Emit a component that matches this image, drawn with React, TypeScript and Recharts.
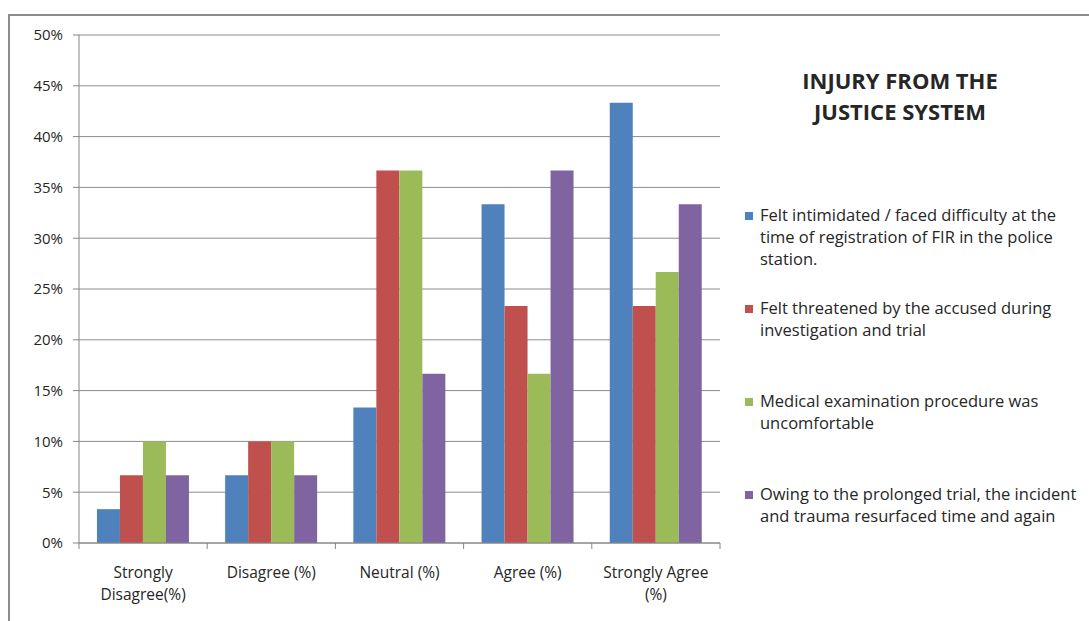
import { BarChart, Bar, XAxis, YAxis, CartesianGrid } from 'recharts';

const categories = ['Strongly Disagree(%)', 'Disagree (%)', 'Neutral (%)', 'Agree (%)', 'Strongly Agree (%)'];
const categoryLines = [
  ['Strongly', 'Disagree(%)'],
  ['Disagree (%)'],
  ['Neutral (%)'],
  ['Agree (%)'],
  ['Strongly Agree', '(%)'],
];

const intimidated = [3.33, 6.67, 13.33, 33.33, 43.33];
const threatened = [6.67, 10, 36.67, 23.33, 23.33];
const medical = [10, 10, 36.67, 16.67, 26.67];
const trauma = [6.67, 6.67, 16.67, 36.67, 33.33];

const yTicks = [0, 5, 10, 15, 20, 25, 30, 35, 40, 45, 50];

const seriesNames = [
  ['Felt intimidated / faced difficulty at the', 'time of registration of FIR in the police', 'station.'],
  ['Felt threatened by the accused during', 'investigation and trial'],
  ['Medical examination procedure was', 'uncomfortable'],
  ['Owing to the prolonged trial, the incident', 'and trauma resurfaced time and again'],
];
const seriesKeys = ['intimidated', 'threatened', 'medical', 'trauma'];
const colors = ['#4F81BD', '#C0504D', '#9BBB59', '#8064A2'];

const title = ['INJURY FROM THE', 'JUSTICE SYSTEM'];

const data = categories.map((name, i) => ({
  name,
  intimidated: intimidated[i],
  threatened: threatened[i],
  medical: medical[i],
  trauma: trauma[i],
}));

const W = 1089;
const H = 621;
const PLOT_LEFT = 79;
const PLOT_RIGHT = 720;
const PLOT_TOP = 35;
const PLOT_BOTTOM = 543;
const FONT = '"Open Sans", sans-serif';
const TEXT = '#262626';
const band = (PLOT_RIGHT - PLOT_LEFT) / categories.length;

// category label plus the boundary tick marks on either side of it
function CategoryTick(props: any) {
  const { x, y, index } = props;
  const lines: string[] = categoryLines[index] || [];
  const left = x - band / 2;
  return (
    <g>
      <line x1={left} x2={left} y1={PLOT_BOTTOM} y2={PLOT_BOTTOM + 6} stroke="#868686" />
      {index === categories.length - 1 && (
        <line x1={left + band} x2={left + band} y1={PLOT_BOTTOM} y2={PLOT_BOTTOM + 6} stroke="#868686" />
      )}
      <text x={x} y={y} textAnchor="middle" fill={TEXT} fontSize={15.5} fontFamily={FONT}>
        {lines.map((l, i) => (
          <tspan key={i} x={x} dy={i === 0 ? 27 : 22}>
            {l}
          </tspan>
        ))}
      </text>
    </g>
  );
}

function SideLegend() {
  return (
    <div style={{ position: 'absolute', left: 725, top: 65, width: 360, fontFamily: FONT, color: TEXT }}>
      <div style={{ textAlign: 'center', fontWeight: 700, fontSize: 22, lineHeight: '31px', width: 350 }}>
        {title.map((t) => (
          <div key={t}>{t}</div>
        ))}
      </div>
      <div style={{ marginTop: 77 }}>
        {seriesKeys.map((k, i) => (
          <div key={k} style={{ display: 'flex', alignItems: 'flex-start', height: 93, marginLeft: 20 }}>
            <div style={{ width: 8, height: 8, background: colors[i], marginTop: 8, marginRight: 7, flexShrink: 0 }} />
            <div style={{ fontSize: 16.5, lineHeight: '22px' }}>
              {seriesNames[i].map((l) => (
                <div key={l} style={{ whiteSpace: 'nowrap' }}>{l}</div>
              ))}
            </div>
          </div>
        ))}
      </div>
    </div>
  );
}

export default function App() {
  return (
    <div style={{ position: 'absolute', left: 0, top: 0, width: W, height: H, overflow: 'hidden', background: '#fff' }}>
      <div
        style={{
          position: 'absolute',
          left: 8,
          top: 14,
          width: W + 20,
          height: H + 20,
          border: '2px solid #8c8c8c',
          boxSizing: 'border-box',
        }}
      />
      <div style={{ position: 'absolute', left: 0, top: 0 }}>
        <BarChart
          width={W}
          height={H}
          data={data}
          margin={{ top: PLOT_TOP, right: W - PLOT_RIGHT, bottom: 0, left: PLOT_LEFT - 60 }}
          barCategoryGap="14%"
          barGap={0}
        >
          <CartesianGrid vertical={false} stroke="#8c8c8c" />
          <XAxis
            dataKey="name"
            stroke="#868686"
            tickLine={false}
            tick={<CategoryTick />}
            interval={0}
            height={H - PLOT_BOTTOM}
          />
          <YAxis
            width={60}
            domain={[0, 50]}
            ticks={yTicks}
            interval={0}
            tickFormatter={(v: number) => `${v}%`}
            stroke="#868686"
            tickSize={6}
            tickMargin={10}
            tick={{ fill: TEXT, fontSize: 15, fontFamily: FONT }}
          />
          {seriesKeys.map((k, i) => (
            <Bar key={k} dataKey={k} name={seriesNames[i].join(' ')} fill={colors[i]} isAnimationActive={false} />
          ))}
        </BarChart>
      </div>
      <SideLegend />
    </div>
  );
}
